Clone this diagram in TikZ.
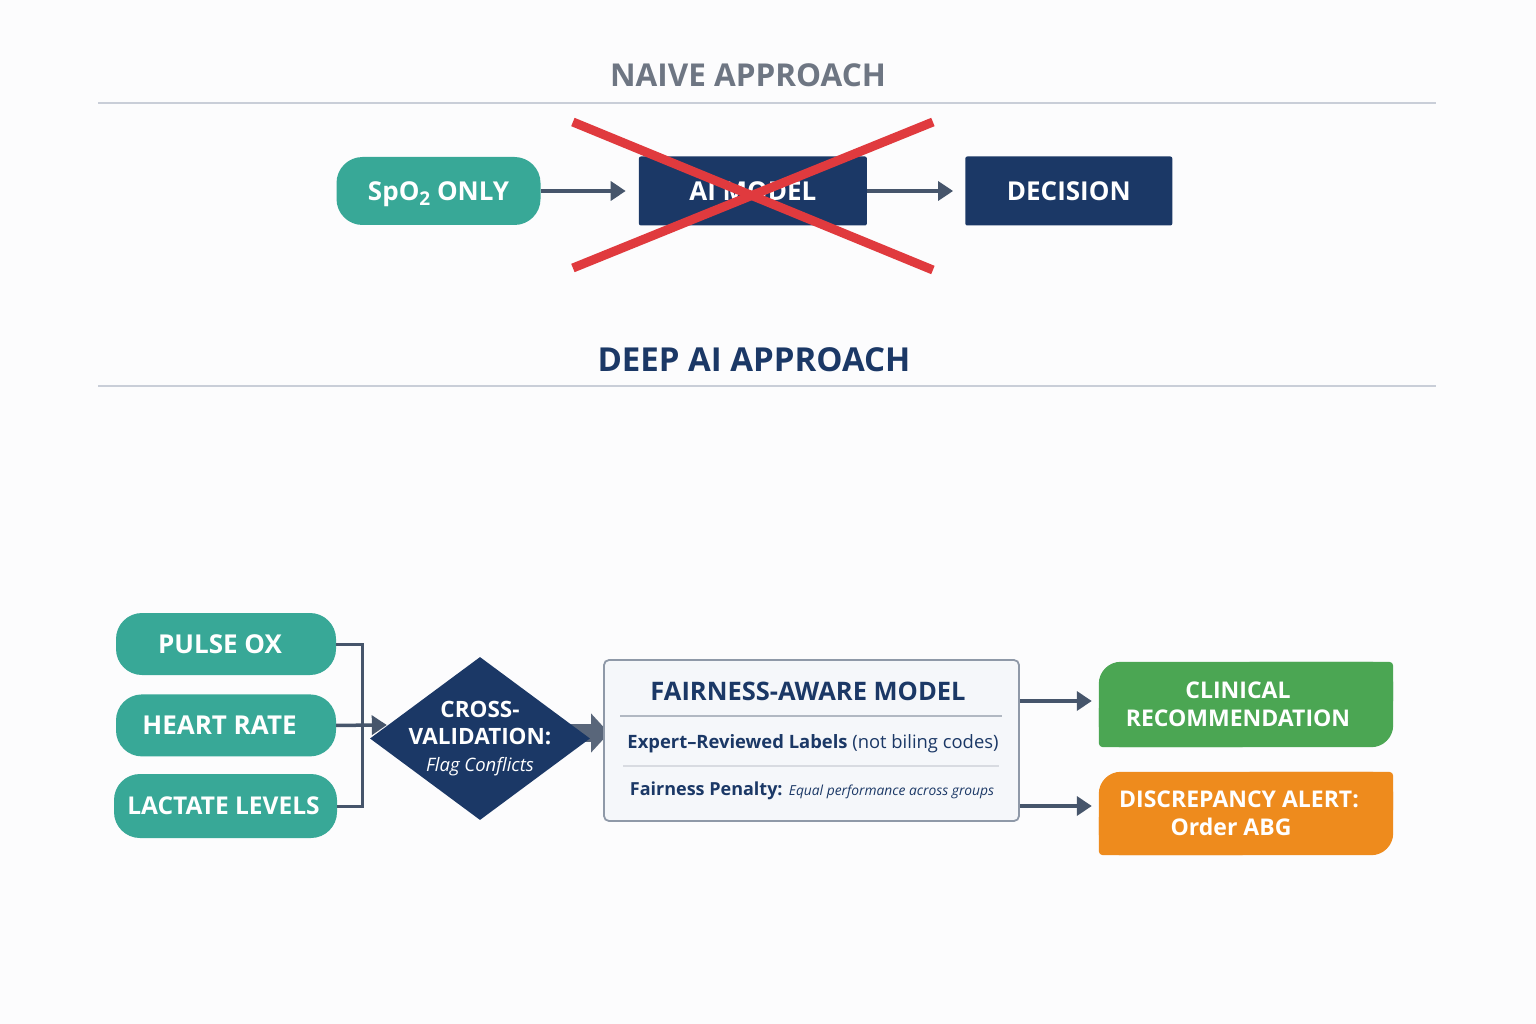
\documentclass[tikz,border=0pt]{standalone}
\usepackage{fontspec}
\setmainfont{Open Sans}
\usetikzlibrary{positioning,arrows.meta,calc,shapes.geometric,backgrounds}
\definecolor{rxpaper}{HTML}{FCFCFD}
\definecolor{rxteal}{HTML}{38A897}
\definecolor{rxnavy}{HTML}{1B3866}
\definecolor{rxslate}{HTML}{46556B}
\definecolor{rxgray}{HTML}{6E7683}
\definecolor{rxrule}{HTML}{C9CED8}
\definecolor{rxred}{HTML}{E03A3E}
\definecolor{rxgreen}{HTML}{4BA653}
\definecolor{rxorange}{HTML}{EE8B1D}
\definecolor{rxpanel}{HTML}{F5F7FA}
\definecolor{rxedge}{HTML}{8F99A8}

\begin{document}
\begin{tikzpicture}[x=1pt, y=-1pt,
  title/.style={font=\fontsize{32}{38}\selectfont\bfseries},
  rule/.style={draw=rxrule, line width=2pt},
  pill/.style={fill=rxteal, text=white, rounded corners=26pt, minimum width=204pt, minimum height=68pt,
    inner sep=0pt, font=\fontsize{26}{30}\selectfont\bfseries},
  navybox/.style={fill=rxnavy, text=white, rounded corners=2pt, minimum height=69pt, inner sep=0pt,
    font=\fontsize{26}{30}\selectfont\bfseries},
  outbox/.style={text=white, align=center, minimum width=294pt, inner sep=0pt,
    font=\fontsize{23}{28}\selectfont\bfseries},
  panel/.style={fill=rxpanel, draw=rxedge, line width=1.8pt, rounded corners=5pt},
  link/.style={draw=rxslate, line width=3pt},
  arr/.style={-{Triangle[length=15pt, width=19pt]}, draw=rxslate, fill=rxslate, line width=3.5pt},
  fat/.style={-{Triangle[length=18pt, width=38pt]}, draw=rxslate!90, line width=18pt},
  cross/.style={draw=rxred, line width=9pt}
]
\useasboundingbox (0,0) rectangle (1536,1024);
\begin{scope}[on background layer]
\fill[rxpaper] (0,0) rectangle (1536,1024);
\end{scope}

\node[title, text=rxgray, font=\fontsize{31.5}{38}\selectfont\bfseries] (naive) at (748,75) {NAIVE APPROACH};
\draw[rule] (98,103) -- (1436,103);

\node[pill, text depth=0pt] (spo) at (438.5,191) {SpO\raisebox{-5pt}[0pt][0pt]{\fontsize{19}{19}\selectfont 2} ONLY};
\node[navybox, minimum width=228pt, right=98pt of spo] (aimodel) {AI MODEL};
\node[navybox, minimum width=207pt, right=98pt of aimodel] (decision) {DECISION};
\draw[arr, shorten >=13pt] (spo) -- (aimodel);
\draw[arr, shorten >=12pt] (aimodel) -- (decision);
\draw[cross] ($(aimodel.center)+(-180,-69)$) -- ($(aimodel.center)+(180,79)$);
\draw[cross] ($(aimodel.center)+(-180,77)$) -- ($(aimodel.center)+(180,-69)$);

\node[title, text=rxnavy, font=\fontsize{33}{38}\selectfont\bfseries] (deep) at (754,360) {DEEP AI APPROACH};
\draw[rule] (98,386) -- (1436,386);

\node[pill, minimum width=220pt, minimum height=62pt, text depth=0pt] (pulse) at (226,644) {\hspace*{-12pt}PULSE OX};
\node[pill, minimum width=220pt, minimum height=62pt, below=19pt of pulse] (heart) {\hspace*{-13pt}HEART RATE};
\node[pill, minimum width=223pt, minimum height=64pt, font=\fontsize{24.5}{30}\selectfont\bfseries] (lactate) at (225.5,806) {\hspace*{-4pt}LACTATE LEVELS};
\node[diamond, fill=rxnavy, minimum width=220pt, minimum height=163pt, inner sep=0pt] (xval) at (480,738.5) {};
\node[text=white, align=center, font=\fontsize{22.5}{27}\selectfont\bfseries] (xvallbl) at (xval.center)
  {CROSS-\\VALIDATION:\\{\itshape\mdseries\fontsize{18.5}{27}\selectfont Flag Conflicts}};
\coordinate (bus) at (362,725);
\coordinate (xin) at ($(xval.west)+(17,-13.5)$);
\draw[link] (pulse.east) -| (bus) |- (lactate.east);
\draw[arr] (heart.east) -- (xin);

\node[panel, minimum width=415pt, minimum height=161pt] (fair) at (811.5,740.5) {};
\node[text=rxnavy, font=\fontsize{25.5}{30}\selectfont\bfseries] (fairtitle) at (808,691) {FAIRNESS-AWARE MODEL};
\draw[draw=rxedge!70, line width=1.5pt] ($(fair.west)+(17,-24.5)$) -- ($(fair.east)+(-18,-24.5)$);
\node[text=rxnavy, font=\fontsize{18.4}{22}\selectfont\bfseries] (labels) at (813,744)
  {Expert--Reviewed Labels {\mdseries (not biling codes)}};
\draw[draw=rxedge!35, line width=1.2pt] ($(fair.west)+(20,25.5)$) -- ($(fair.east)+(-21,25.5)$);
\node[text=rxnavy, font=\fontsize{18}{22}\selectfont\bfseries] (penalty) at (812,791)
  {Fairness Penalty: {\itshape\mdseries\fontsize{13.8}{22}\selectfont Equal performance across groups}};
\begin{scope}[on background layer]
\draw[fat] ($(xval.east)+(-22,-5.5)$) -- ($(fair.west)+(6,-7.5)$);
\end{scope}

\node[outbox, minimum height=85pt] (rec) at (1246,704.5) {CLINICAL\hspace*{16pt}\\RECOMMENDATION\hspace*{16pt}};
\node[outbox, minimum height=83pt] (alert) at (1246,813.5) {DISCREPANCY ALERT:\hspace*{14pt}\\Order ABG\hspace*{30pt}};
\begin{scope}[on background layer]
\foreach \n/\c in {rec/rxgreen, alert/rxorange} {
  \fill[\c, rounded corners=22pt] (\n.south west) rectangle (\n.north east);
  \fill[\c, rounded corners=4pt] (\n.center) rectangle (\n.north east);
  \fill[\c, rounded corners=4pt] (\n.center) rectangle (\n.south west);
}
\end{scope}
\coordinate (recin) at ([yshift=3.5pt]rec.west);
\coordinate (alertin) at ([yshift=7.5pt]alert.west);
\draw[arr, shorten >=7pt] (recin -| fair.east) -- (recin);
\draw[arr, shorten >=7pt] (alertin -| fair.east) -- (alertin);
\end{tikzpicture}
\end{document}
